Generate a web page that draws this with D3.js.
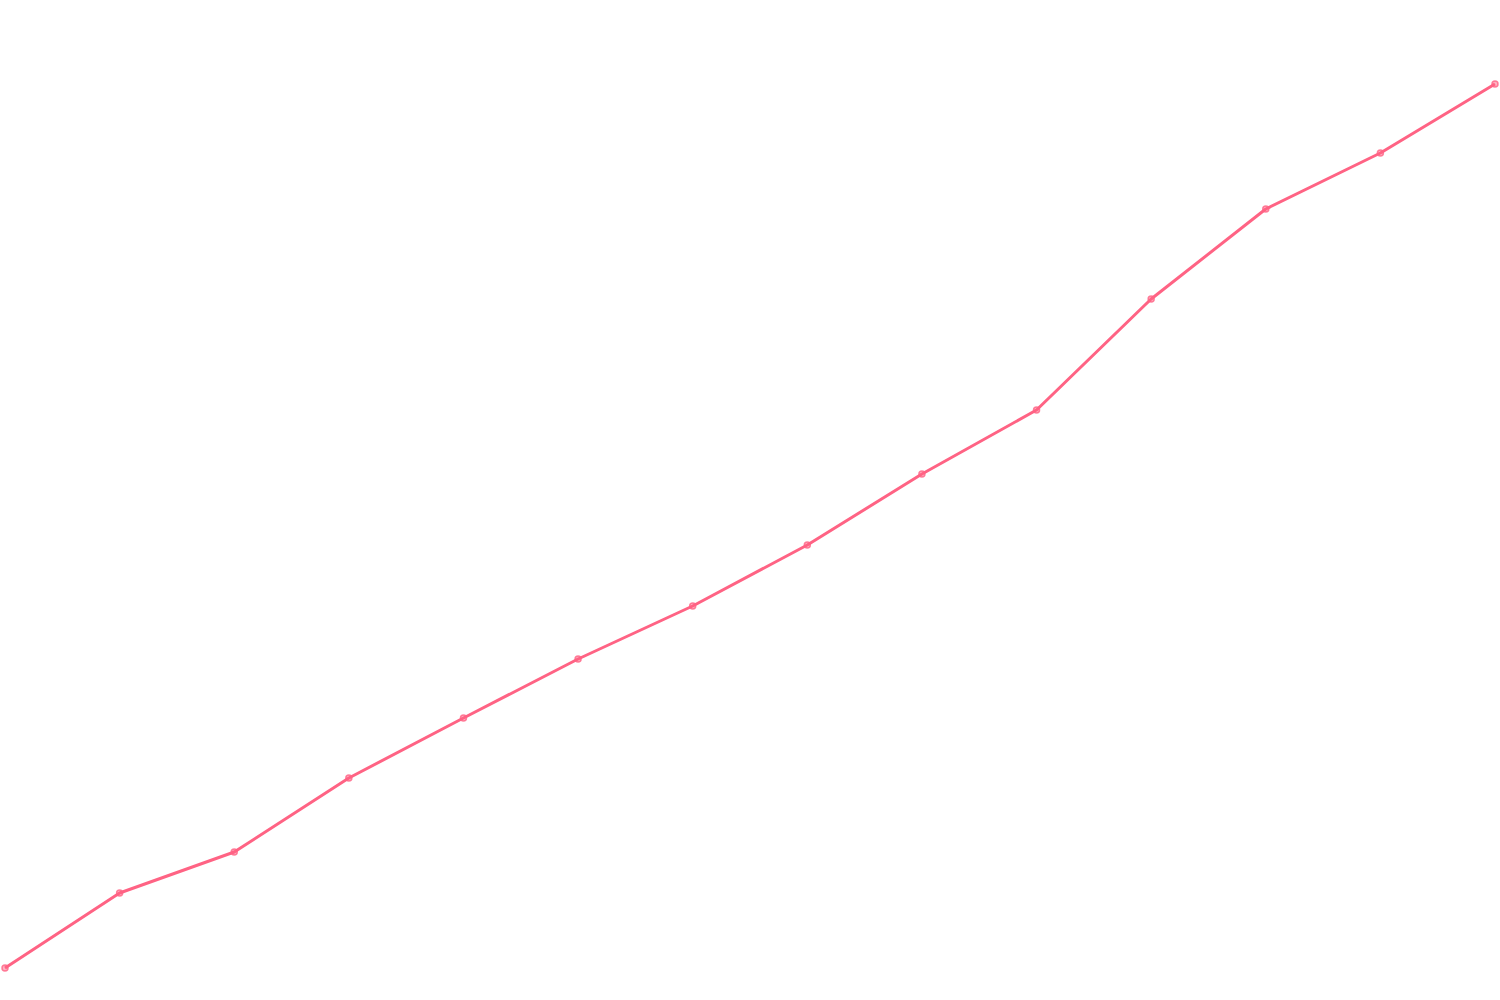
<!DOCTYPE html>
<html>
<head>
<meta charset="utf-8">
<script src="https://cdn.jsdelivr.net/npm/d3@7"></script>
<style>
  html, body { margin: 0; padding: 0; background: #fff; }
  svg { display: block; }
</style>
</head>
<body>
<div id="chart"></div>
<script>
var labels = ["1", "2", "3", "4", "5", "6", "7", "8", "9", "10", "11", "12", "13", "14"];
var values = [32, 107, 148, 222, 282, 341, 394, 455, 526, 590, 701, 791, 847, 916];

var width = 1500,
  height = 1000,
  lineColor = "rgb(255, 99, 132)";

var svg = d3.select("#chart")
  .append("svg")
  .attr("width", width)
  .attr("height", height);

var x = d3.scalePoint()
  .domain(labels)
  .range([5, 1495]);

var y = d3.scaleLinear()
  .domain([0, 1000])
  .range([height, 0]);

var line = d3.line()
  .x(function (d, i) { return x(labels[i]); })
  .y(function (d) { return y(d); });

svg.append("path")
  .datum(values)
  .attr("d", line)
  .attr("fill", "none")
  .attr("stroke", lineColor)
  .attr("stroke-width", 3)
  .attr("stroke-linejoin", "round");

svg.selectAll("circle")
  .data(values)
  .enter()
  .append("circle")
  .attr("cx", function (d, i) { return x(labels[i]); })
  .attr("cy", function (d) { return y(d); })
  .attr("r", 3)
  .attr("fill", "rgba(255, 99, 132, 0.5)")
  .attr("stroke", "rgba(255, 99, 132, 0.8)")
  .attr("stroke-width", 1.5);
</script>
</body>
</html>
